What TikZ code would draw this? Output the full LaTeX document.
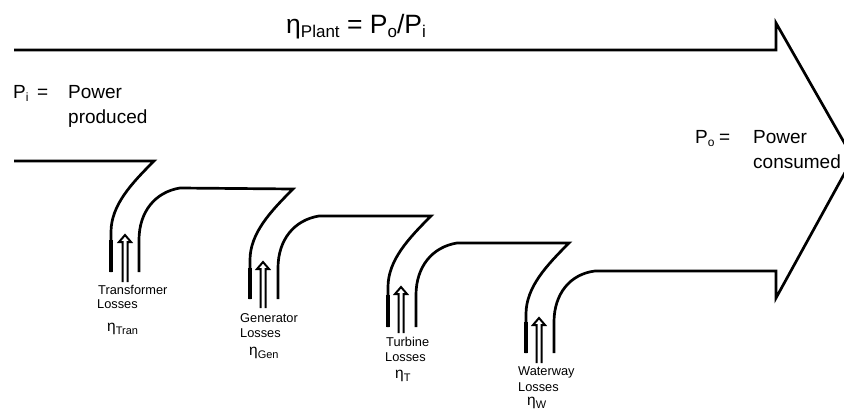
\documentclass[tikz,border=0pt]{standalone}
\usepackage{fontspec}
\setmainfont{Liberation Sans}
\begin{document}
\begin{tikzpicture}[x=1pt,y=-1pt,
  outline/.style={line width=2.7pt, line join=miter, line cap=butt},
  stub/.style={line width=3.1pt, line cap=butt},
  lossarrow/.style={line width=2pt, fill=white, line join=miter},
  lbl/.style={anchor=base west, inner sep=0pt, font=\fontsize{12.8}{14}\selectfont},
  etalbl/.style={anchor=base west, inner sep=0pt, font=\fontsize{15.5}{16}\selectfont},
  midlbl/.style={anchor=base west, inner sep=0pt, font=\fontsize{19}{20}\selectfont},
  titlelbl/.style={anchor=base west, inner sep=0pt, font=\fontsize{26.5}{28}\selectfont}]
\useasboundingbox (0,0) rectangle (844,410);
\begin{scope}
\clip (0,0) rectangle (844,410);
% input line and first stage left bend
\draw[outline] (14,161) -- (154,161) .. controls (132,183) and (111,205) .. (111,232) -- (111,272);
% stage 1 right / stage 2 left
\draw[outline] (139,272) -- (139,240) .. controls (139,212) and (155,192) .. (180,188) -- (293,189)
  .. controls (271,211) and (250,233) .. (250,260) -- (250,299);
% stage 2 right / stage 3 left
\draw[outline] (278,299) -- (278,268) .. controls (278,240) and (294,220) .. (319,216) -- (431,216)
  .. controls (409,238) and (388,260) .. (388,287) -- (388,327);
% stage 3 right / stage 4 left
\draw[outline] (416,327) -- (416,295) .. controls (416,267) and (432,247) .. (457,243) -- (569,243)
  .. controls (547,265) and (526,287) .. (526,314) -- (526,353);
% stage 4 right and the big arrow
\draw[outline] (554,353) -- (554,322) .. controls (554,294) and (570,274) .. (595,271) -- (776,271)
  -- (776,298) -- (853,158) -- (776,23) -- (776,50) -- (14,50);
% slightly heavier stubs on the left side of each bend
\draw[stub] (111,240) -- (111,272);
\draw[stub] (250,268) -- (250,299);
\draw[stub] (388,295) -- (388,327);
\draw[stub] (526,322) -- (526,353);
\end{scope}
% loss arrows
\foreach \ax/\at/\ab in {125/235/282, 263/262/308, 401/287/333, 539/318/363}{
  \draw[lossarrow] ({\ax-2.5},\ab) -- ({\ax-2.5},{\at+7}) -- ({\ax-6},{\at+7}) -- (\ax,\at)
    -- ({\ax+6},{\at+7}) -- ({\ax+2.5},{\at+7}) -- ({\ax+2.5},\ab);
}
% title
\node[titlelbl] (title) at (286,33) {η\raisebox{-4pt}{\fontsize{17}{18}\selectfont Plant} = P\raisebox{-4pt}{\fontsize{17}{18}\selectfont o}/P\raisebox{-4pt}{\fontsize{17}{18}\selectfont i}};
% Pi label
\node[midlbl] (pisym) at (13,98) {P\raisebox{-3pt}{\fontsize{12}{12}\selectfont i}};
\node[midlbl] (pieq) at (37,98) {=};
\node[midlbl] (pi1) at (68,98) {Power};
\node[midlbl] (pi2) at (68,123) {produced};
% Po label
\node[midlbl] (posym) at (695,143) {P\raisebox{-3pt}{\fontsize{12}{12}\selectfont o}};
\node[midlbl] (poeq) at (719,143) {=};
\node[midlbl] (po1) at (753,143) {Power};
\node[midlbl] (po2) at (753,168) {consumed};
% loss labels
\node[lbl] (t1) at (98,294) {Transformer};
\node[lbl] (t2) at (97,308) {Losses};
\node[etalbl] (t3) at (107,331) {η\raisebox{-3pt}{\fontsize{11}{11}\selectfont Tran}};
\node[lbl] (g1) at (240,322) {Generator};
\node[lbl] (g2) at (240,337) {Losses};
\node[etalbl] (g3) at (249,355) {η\raisebox{-3pt}{\fontsize{11}{11}\selectfont Gen}};
\node[lbl] (u1) at (386,346) {Turbine};
\node[lbl] (u2) at (385,361) {Losses};
\node[etalbl] (u3) at (395,378) {η\raisebox{-3pt}{\fontsize{11}{11}\selectfont T}};
\node[lbl] (w1) at (518,375) {Waterway};
\node[lbl] (w2) at (518,391) {Losses};
\node[etalbl] (w3) at (527,405) {η\raisebox{-3pt}{\fontsize{11}{11}\selectfont W}};
\end{tikzpicture}
\end{document}
